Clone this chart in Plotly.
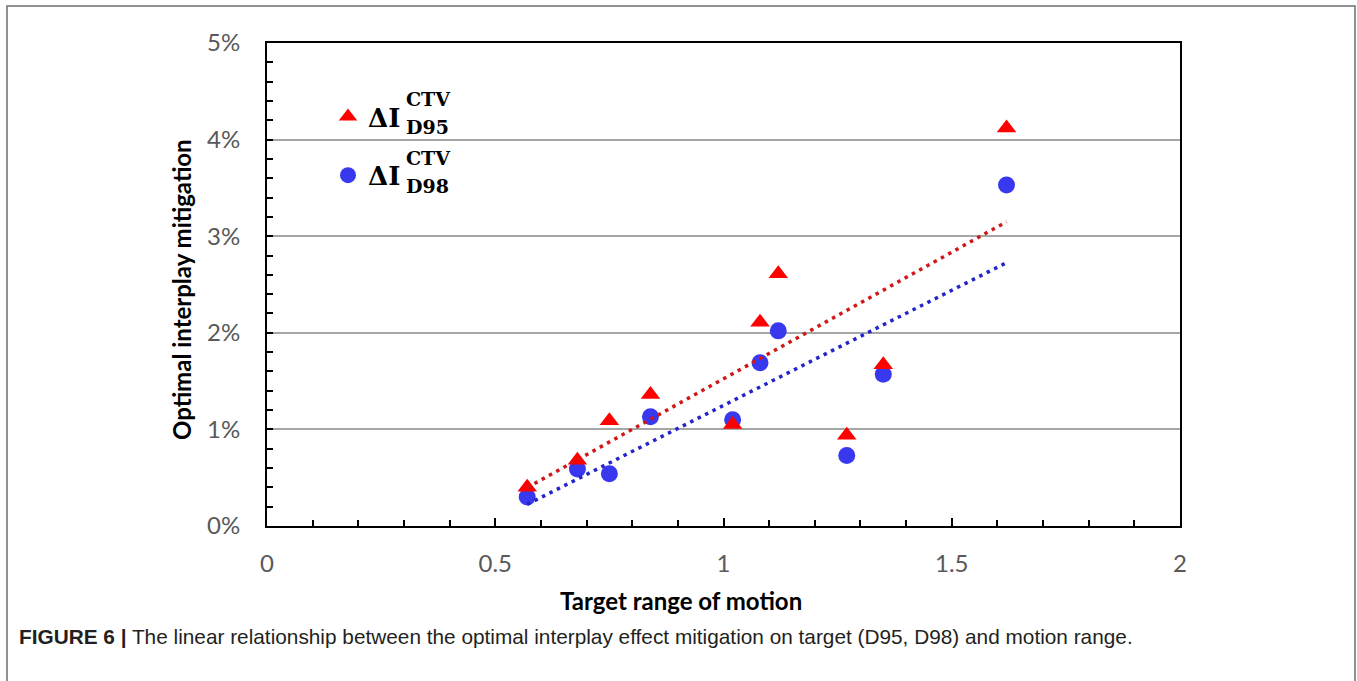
import numpy as np
import plotly.graph_objects as go

# ---- data ----
motion_range = [0.57, 0.68, 0.75, 0.84, 1.02, 1.08, 1.12, 1.27, 1.35, 1.62]
mitigation_d95 = [0.40, 0.68, 1.09, 1.36, 1.05, 2.11, 2.61, 0.94, 1.67, 4.12]
mitigation_d98 = [0.30, 0.59, 0.54, 1.13, 1.10, 1.69, 2.02, 0.73, 1.57, 3.53]

x_tick_vals = [0, 0.5, 1, 1.5, 2]
x_tick_text = ["0", "0.5", "1", "1.5", "2"]
y_tick_vals = [0, 1, 2, 3, 4, 5]
y_tick_text = ["0%", "1%", "2%", "3%", "4%", "5%"]

W, H = 1357, 681
L, R, T, B = 267, 177, 43, 155
PW, PH = W - L - R, H - T - B


def px(x):
    return (x - L) / PW


def py(y):
    return (H - B - y) / PH


RED = "#FF0000"
BLUE = "#3838EE"
RED_LINE = "#D01818"
BLUE_LINE = "#2424CC"

x_arr = np.array(motion_range)
x_fit = np.array([x_arr.min(), x_arr.max()])
fit95 = np.polyfit(x_arr, np.array(mitigation_d95), 1)
fit98 = np.polyfit(x_arr, np.array(mitigation_d98), 1)

fig = go.Figure()
fig.add_trace(go.Scatter(
    x=motion_range, y=mitigation_d98, mode="markers", name="<b>ΔI</b>",
    marker=dict(symbol="circle", size=17, color=BLUE),
    legendgroup="b", legendrank=2))
fig.add_trace(go.Scatter(
    x=motion_range, y=mitigation_d95, mode="markers", name="<b>ΔI</b>",
    marker=dict(symbol="triangle-up", size=17, color=RED),
    legendgroup="a", legendrank=1))
fig.add_trace(go.Scatter(
    x=x_fit, y=np.polyval(fit98, x_fit), mode="lines", showlegend=False,
    line=dict(color=BLUE_LINE, width=3.5, dash="3.5px,4.8px")))
fig.add_trace(go.Scatter(
    x=x_fit, y=np.polyval(fit95, x_fit), mode="lines", showlegend=False,
    line=dict(color=RED_LINE, width=3.5, dash="3.5px,4.8px")))

tickfont = dict(family="Lato, Open Sans, sans-serif", size=24, color="#595959")
titlefont = dict(family="Lato, Open Sans, sans-serif", size=24, color="black")
serif = dict(family="DejaVu Serif", size=19, color="black")

fig.update_xaxes(
    range=[0, 2], showline=True, linecolor="black", linewidth=2, mirror=True,
    ticks="inside", ticklen=8, tickwidth=2, tickcolor="black",
    tickvals=x_tick_vals, ticktext=x_tick_text, tickfont=tickfont,
    ticklabelstandoff=15,
    minor=dict(ticks="inside", ticklen=6, tickwidth=1.5, tickcolor="black",
               dtick=0.1, showgrid=False),
    showgrid=False, zeroline=False)
fig.update_yaxes(
    range=[0, 5], showline=True, linecolor="black", linewidth=2, mirror=True,
    ticks="inside", ticklen=6, tickwidth=1.5, tickcolor="black",
    tickvals=y_tick_vals, ticktext=y_tick_text, tickfont=tickfont,
    ticklabelstandoff=20,
    minor=dict(ticks="inside", ticklen=6, tickwidth=1.5, tickcolor="black",
               dtick=0.2, showgrid=False),
    showgrid=True, gridcolor="#A6A6A6", gridwidth=2, zeroline=False)

annotations = [
    dict(text="<b>Target range of motion</b>", x=px(681), y=py(600), font=titlefont),
    dict(text="<b>Optimal interplay mitigation</b>", x=px(181), y=py(290),
         textangle=-90, font=titlefont),
    dict(text="<b>FIGURE 6 |</b> The linear relationship between the optimal interplay "
              "effect mitigation on target (D95, D98) and motion range.",
         x=px(17), y=py(637), xanchor="left",
         font=dict(family="Liberation Sans, Arial", size=20.8, color="#231F20")),
    dict(text="<b>CTV</b>", x=px(404), y=py(99), xanchor="left", font=serif),
    dict(text="<b>D95</b>", x=px(404), y=py(127), xanchor="left", font=serif),
    dict(text="<b>CTV</b>", x=px(404), y=py(158), xanchor="left", font=serif),
    dict(text="<b>D98</b>", x=px(404), y=py(186), xanchor="left", font=serif),
]
for a in annotations:
    a.update(xref="paper", yref="paper", showarrow=False)
    a.setdefault("xanchor", "center")
    a.setdefault("yanchor", "middle")

fig.update_layout(
    width=W, height=H,
    margin=dict(l=L, r=R, t=T, b=B),
    plot_bgcolor="white", paper_bgcolor="white",
    annotations=annotations,
    shapes=[dict(type="rect", xref="paper", yref="paper",
                 x0=px(7), x1=px(1355), y0=py(720), y1=py(6),
                 line=dict(color="#6E6E6E", width=1.5))],
    legend=dict(x=px(328), y=py(93), xanchor="left", yanchor="top",
                bgcolor="rgba(0,0,0,0)", traceorder="grouped", tracegroupgap=22,
                font=dict(family="DejaVu Serif", size=26, color="black"),
                itemsizing="trace"),
    showlegend=True,
)

fig.write_html("out.html",
               config={"displayModeBar": False},
               post_script="document.body.style.margin='0';"
                           "document.body.style.overflow='hidden';")
